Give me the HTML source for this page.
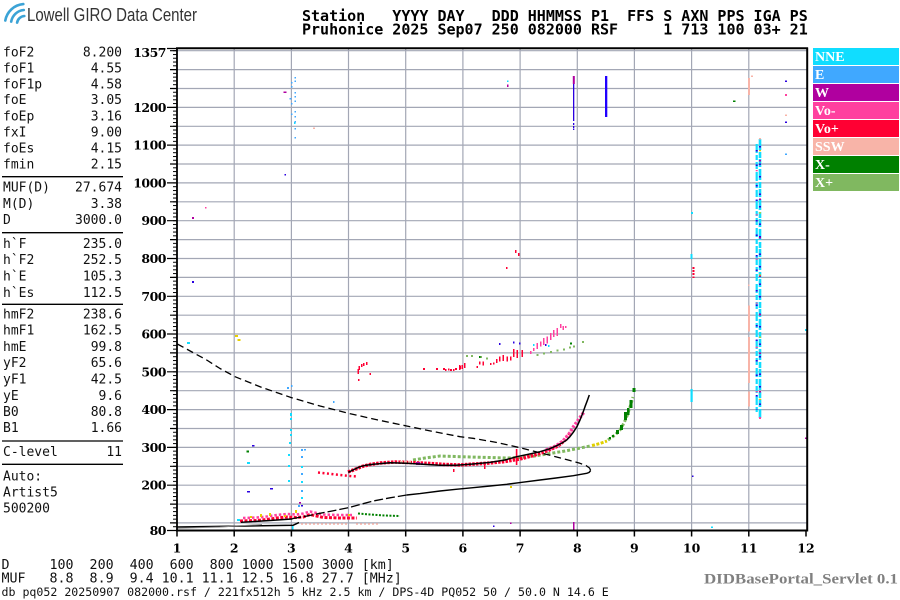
<!DOCTYPE html>
<html><head><meta charset="utf-8">
<style>
html,body{margin:0;padding:0;background:#fff;}
svg{display:block;}
.m{font-family:"DejaVu Sans Mono","Liberation Mono",monospace;}
.s{font-family:"DejaVu Serif","Liberation Serif",serif;font-weight:bold;}
.lg{font-family:"Liberation Serif","DejaVu Serif",serif;font-weight:bold;font-size:14px;fill:#fff;}
</style></head><body>
<svg width="900" height="600" viewBox="0 0 900 600" xmlns="http://www.w3.org/2000/svg">
<defs>
<pattern id="tk" patternUnits="userSpaceOnUse" x="0" y="530" width="10" height="3.778"><rect x="0" y="0" width="10" height="1" fill="#000"/></pattern>
</defs>
<rect width="900" height="600" fill="#fff"/>

<!-- logo -->
<g fill="none" stroke="#3BA3D6" stroke-width="2.6" stroke-linecap="round">
<path d="M17.1 22.6 A8 8 0 0 1 24.3 16"/>
<path d="M11.2 21.6 A14 14 0 0 1 23.8 10"/>
<path d="M5.3 20.5 A20 20 0 0 1 23.3 4.1"/>
</g>
<text x="27" y="21" font-family="'Liberation Sans Narrow','Liberation Sans',sans-serif" font-size="18" fill="#333" textLength="170" lengthAdjust="spacingAndGlyphs">Lowell GIRO Data Center</text>

<!-- header -->
<g class="m" font-size="15" font-weight="bold" fill="#000">
<text x="302" y="21">Station&#160;&#160;&#160;YYYY&#160;DAY&#160;&#160;&#160;DDD&#160;HHMMSS&#160;P1&#160;&#160;FFS&#160;S&#160;AXN&#160;PPS&#160;IGA&#160;PS</text>
<text x="302" y="34.5">Pruhonice&#160;2025&#160;Sep07&#160;250&#160;082000&#160;RSF&#160;&#160;&#160;&#160;&#160;1&#160;713&#160;100&#160;03+&#160;21</text>
</g>

<!-- left panel -->
<g class="m" font-size="13" fill="#111">
<text x="3" y="56.5">foF2</text><text x="122" y="56.5" text-anchor="end">8.200</text>
<text x="3" y="72.5">foF1</text><text x="122" y="72.5" text-anchor="end">4.55</text>
<text x="3" y="88.5">foF1p</text><text x="122" y="88.5" text-anchor="end">4.58</text>
<text x="3" y="104">foE</text><text x="122" y="104" text-anchor="end">3.05</text>
<text x="3" y="120.5">foEp</text><text x="122" y="120.5" text-anchor="end">3.16</text>
<text x="3" y="136.5">fxI</text><text x="122" y="136.5" text-anchor="end">9.00</text>
<text x="3" y="152.5">foEs</text><text x="122" y="152.5" text-anchor="end">4.15</text>
<text x="3" y="168.5">fmin</text><text x="122" y="168.5" text-anchor="end">2.15</text>
<text x="3" y="191.5">MUF(D)</text><text x="122" y="191.5" text-anchor="end">27.674</text>
<text x="3" y="207.8">M(D)</text><text x="122" y="207.8" text-anchor="end">3.38</text>
<text x="3" y="224">D</text><text x="122" y="224" text-anchor="end">3000.0</text>
<text x="3" y="247.8">h`F</text><text x="122" y="247.8" text-anchor="end">235.0</text>
<text x="3" y="263.8">h`F2</text><text x="122" y="263.8" text-anchor="end">252.5</text>
<text x="3" y="280.3">h`E</text><text x="122" y="280.3" text-anchor="end">105.3</text>
<text x="3" y="297">h`Es</text><text x="122" y="297" text-anchor="end">112.5</text>
<text x="3" y="318.5">hmF2</text><text x="122" y="318.5" text-anchor="end">238.6</text>
<text x="3" y="334.7">hmF1</text><text x="122" y="334.7" text-anchor="end">162.5</text>
<text x="3" y="351">hmE</text><text x="122" y="351" text-anchor="end">99.8</text>
<text x="3" y="367.2">yF2</text><text x="122" y="367.2" text-anchor="end">65.6</text>
<text x="3" y="383.4">yF1</text><text x="122" y="383.4" text-anchor="end">42.5</text>
<text x="3" y="399.8">yE</text><text x="122" y="399.8" text-anchor="end">9.6</text>
<text x="3" y="416">B0</text><text x="122" y="416" text-anchor="end">80.8</text>
<text x="3" y="432.2">B1</text><text x="122" y="432.2" text-anchor="end">1.66</text>
<text x="3" y="455.8">C-level</text><text x="122" y="455.8" text-anchor="end">11</text>
<text x="3" y="480.5">Auto:</text>
<text x="3" y="496.5">Artist5</text>
<text x="3" y="512.4">500200</text>
</g>
<g stroke="#000" stroke-width="1.3">
<path d="M2 176.7H123M2 232.7H123M2 304.3H123M2 441H123M2 464.3H123"/>
</g>

<!-- grid -->
<g stroke="#a3a7b5" stroke-width="1.2" fill="none">
<path d="M234.2 48V530.5M291.4 48V530.5M348.5 48V530.5M405.7 48V530.5M462.9 48V530.5M520.1 48V530.5M577.3 48V530.5M634.4 48V530.5M691.6 48V530.5M748.8 48V530.5"/>
<path d="M177 522.9H807M177 504.1H807M177 485.2H807M177 466.3H807M177 447.4H807M177 428.5H807M177 409.6H807M177 390.7H807M177 371.8H807M177 352.9H807M177 334H807M177 315.2H807M177 296.3H807M177 277.4H807M177 258.5H807M177 239.6H807M177 220.7H807M177 201.8H807M177 182.9H807M177 164H807M177 145.1H807M177 126.3H807M177 107.4H807M177 88.5H807M177 69.6H807M177 50.7H807"/>
</g>

<!-- y ticks -->
<rect x="173" y="50" width="4" height="481" fill="url(#tk)"/>
<g stroke="#000" stroke-width="1.2">
<path d="M170 522.9h7M170 504.1h7M170 466.3h7M170 428.5h7M170 390.7h7M170 352.9h7M170 315.2h7M170 277.4h7M170 239.6h7M170 201.8h7M170 164h7M170 126.3h7M170 88.5h7M170 69.6h7M170 50.7h7"/>
<path d="M167 530.5h10M167 485.2h10M167 447.4h10M167 409.6h10M167 371.8h10M167 334h10M167 296.3h10M167 258.5h10M167 220.7h10M167 182.9h10M167 145.1h10M167 107.4h10M167 48.5h10"/>
</g>
<!-- x ticks -->
<g stroke="#000" stroke-width="1.5">
<path d="M177 530V536.5M234.2 530V536.5M291.4 530V536.5M348.5 530V536.5M405.7 530V536.5M462.9 530V536.5M520.1 530V536.5M577.3 530V536.5M634.4 530V536.5M691.6 530V536.5M748.8 530V536.5M806 530V536.5"/>
</g>

<!-- y labels -->
<g class="s" font-size="12.5" fill="#000" text-anchor="end" letter-spacing="-0.5">
<text x="166" y="57">1357</text>
<text x="166" y="111.9">1200</text>
<text x="166" y="149.6">1100</text>
<text x="166" y="187.4">1000</text>
<text x="166" y="225.2">900</text>
<text x="166" y="263">800</text>
<text x="166" y="300.8">700</text>
<text x="166" y="338.5">600</text>
<text x="166" y="376.3">500</text>
<text x="166" y="414.1">400</text>
<text x="166" y="451.9">300</text>
<text x="166" y="489.7">200</text>
<text x="166" y="534.8">80</text>
</g>
<!-- x labels -->
<g class="s" font-size="12.5" fill="#000" text-anchor="middle">
<text x="177" y="552.5">1</text>
<text x="234.2" y="552.5">2</text>
<text x="291.4" y="552.5">3</text>
<text x="348.5" y="552.5">4</text>
<text x="405.7" y="552.5">5</text>
<text x="462.9" y="552.5">6</text>
<text x="520.1" y="552.5">7</text>
<text x="577.3" y="552.5">8</text>
<text x="634.4" y="552.5">9</text>
<text x="691.6" y="552.5">10</text>
<text x="748.8" y="552.5">11</text>
<text x="806" y="552.5">12</text>
</g>

<!-- ===== DATA ===== -->
<!-- E region band -->
<polyline fill="none" stroke="#FF0033" stroke-width="3" stroke-dasharray="3 1.5" points="240,521 256.7,520.5 266.7,519.5 276.7,518 286.7,517 296.7,517.5 303.3,517 310,514.5 316.7,516 323.3,517.5 340,518 356.7,518"/>
<polyline fill="none" stroke="#FF409F" stroke-width="2.5" stroke-dasharray="2.5 2" points="243,518 256.7,517.5 266.7,516.5 276.7,515 286.7,514 296.7,514.5 303.3,513.5 310,511.5 316.7,513 323.3,514.5 340,515 352,515"/>
<g fill="#E8D000">
<path d="M260 514h2v3h-2zM269 513h2v3h-2zM295 510h2v3h-2zM250 516h2v2h-2zM284 515h2v2h-2zM348 514h2v2h-2zM510 486h2v2h-2zM235 335h3v2h-3zM237.5 339h3v2h-3z"/>
</g>
<polyline fill="none" stroke="#F8B4A8" stroke-width="1.6" stroke-dasharray="2 2" points="301,524 348,524"/>
<polyline fill="none" stroke="#F8B4A8" stroke-width="1.6" stroke-dasharray="2 2" points="356,524 379,524"/>
<polyline fill="none" stroke="#008000" stroke-width="2" stroke-dasharray="2 1.5" points="358,513.5 370,514.5 385,515.5 400,516"/>

<!-- F1 low red -->
<polyline fill="none" stroke="#FF0033" stroke-width="2.5" stroke-dasharray="2 2.5" points="318,472.5 330,473.8 340,475 350,476 357,476.5"/>

<!-- X trace (X+) -->
<polyline fill="none" stroke="#80B860" stroke-width="3" stroke-dasharray="3 2" points="413,460 425,458 440,456 455,456.5 470,457 490,457.5 507,458 520,457.5 535,456 550,453.5 565,451 578,448.5 590,446"/>
<polyline fill="none" stroke="#E0D000" stroke-width="3" stroke-dasharray="3 1.5" points="592,445.5 600,443.5 607,441"/>
<polyline fill="none" stroke="#80B860" stroke-width="3" stroke-dasharray="3 2" points="608,440 615,435 620,430 624,423 627,416 630,407 633,397"/>
<g fill="#008000">
<path d="M616 430h3v4h-3zM620 425h3v5h-3zM624 412h3v8h-3zM627 408h2.5v7h-2.5zM629.5 400h3v8h-3zM632.5 388h3v4h-3zM609 437h2v2h-2zM612 435h2v2h-2z"/>
</g>

<!-- O trace -->
<polyline fill="none" stroke="#FF0033" stroke-width="3.5" stroke-dasharray="2.5 1.2" points="348,472 356,469 362,466.5 370,464.5 380,463 395,462 410,462.5 430,463.5 445,464.5 460,465 475,464 490,463 505,461.5 520,459 535,455 548,450.5 558,446 565,440 571,432"/>
<polyline fill="none" stroke="#FF409F" stroke-width="3.5" stroke-dasharray="2.5 1.5" points="546,450 556,446 563,441 569,434 574,426 579,419 584,412"/>
<g fill="#F8B4A8"><path d="M400 461h3v2h-3zM404 461h3v2h-3zM408 461h3v2h-3z"/></g>
<g fill="#B0009F"><path d="M416 462h4v3h-4zM421 463h2v2h-2z"/></g>
<g fill="#FF0033"><path d="M515.8 449h1.6v16h-1.6zM484 463h1.5v6h-1.5zM453 469h1.5v3h-1.5z"/></g>

<!-- spread F high -->
<g fill="#FF0033">
<path d="M357.5 369h1.5v5h-1.5zM358.5 366h1.5v4h-1.5zM361 364h1.5v3h-1.5zM363 363h1.5v3h-1.5zM366 362h1.5v3h-1.5zM369.5 373h1.5v2h-1.5zM358 379h1.5v2h-1.5z"/>
<path d="M423 368h2v2h-2zM436 368h2v2h-2zM443 368h2v2h-2zM450 369h2v2h-2zM455 368h2v2h-2zM459 366h2v3h-2z"/>
<path d="M445 369h1.5v2h-1.5zM448 368.5h1.5v2h-1.5zM453 369h1.5v2h-1.5zM459 365h1.5v5h-1.5zM461.5 365h1.5v4h-1.5zM464 363h1.5v5h-1.5zM476.5 366h1.5v2h-1.5zM479 361.5h1.5v3h-1.5zM482.5 361.5h1.5v4h-1.5zM490 363h1.5v2h-1.5zM493 362.5h1.5v2h-1.5zM496 359h1.5v4h-1.5zM499 356.5h1.5v5h-1.5zM502.5 355h1.5v6h-1.5zM506.5 356.5h1.5v5h-1.5zM510 356.5h1.5v4h-1.5zM513 349h1.5v8h-1.5zM516.5 350h1.5v8h-1.5zM521.5 350h1.5v7h-1.5z"/>
<path d="M515 250h1.5v3h-1.5zM518 253h1.5v3h-1.5zM506 267h1.5v2h-1.5z"/>
</g>
<g fill="#FF409F">
<path d="M533 348h1.5v3h-1.5zM536.5 343h1.5v6h-1.5zM540 341.5h1.5v5h-1.5zM543 338h1.5v7h-1.5zM546.5 336.5h1.5v7h-1.5zM550 333h1.5v7h-1.5zM553 330h1.5v7h-1.5zM556.5 328h1.5v8h-1.5zM560 324h1.5v4h-1.5zM562.5 326h1.5v4h-1.5zM565 326h1.5v2h-1.5zM530 351h1.5v3h-1.5z"/>
</g>
<g fill="#80B860">
<path d="M480 356h2v2h-2zM486 357.5h2v2h-2zM536.5 354h2v2h-2zM543 352.5h2v2h-2zM550 351h2v2h-2zM556.5 349.5h2v2h-2zM563 348.5h2v2h-2zM569 346.5h2v2h-2zM573 345.5h2v2h-2zM582 341h2v2h-2zM466 355h2v2h-2zM471 355h2v2h-2z"/>
</g>
<g fill="#008000"><path d="M570 342.5h2v2h-2zM479 356h1.5v2h-1.5z"/></g>
<g fill="#2a00e0"><path d="M499 343h1.5v2h-1.5zM513 341.5h1.5v2h-1.5zM519 342.5h1.5v2h-1.5zM545 344h1.5v2h-1.5z"/></g>
<g fill="#10DDFF"><path d="M548 345h1.5v2h-1.5zM533 344h1.5v2h-1.5z"/></g>

<!-- scattered low-frequency points -->
<g fill="#10DDFF">
<path d="M187 342h3v2h-3zM247 462h3v2h-3zM237 519h3v2h-3zM290 413h2v3h-2zM290 418h2v2h-2zM290 429h2v2h-2zM290 434h2v2h-2zM289 442h2v2h-2zM288 454h2v2h-2zM288 465h2v2h-2zM288 480h2v2h-2zM301 466h2v2h-2zM301 481h2v2h-2zM301 497h2v2h-2zM292 526h1.5v4h-1.5zM805 329h2v2h-2zM691 212h2v2h-2zM690.5 254h2v5h-2zM690.5 389h2.2v13h-2.2zM711 526.5h2v1.5h-2zM507 80.5h1.5v1.5h-1.5zM294 122h1.5v2h-1.5z"/>
</g>
<g fill="#40A8FF">
<path d="M287 387h2v2h-2zM301 449h2v2h-2zM301 456h2v2h-2zM301 473h2v2h-2zM301 490h2v2h-2zM298 505h2v2h-2zM333 401h1.5v2h-1.5zM304 449h2v1.5h-2zM291 82h1.5v1.5h-1.5zM291 86h1.5v1.5h-1.5zM294.5 77h1.5v1.5h-1.5zM294.5 80.5h1.5v1.5h-1.5zM289.5 98h2v1.5h-2zM291 103h1.5v1.5h-1.5zM294.5 92h1.5v1.5h-1.5zM294.5 96h1.5v1.5h-1.5zM294.5 100.5h1.5v1.5h-1.5zM294.5 111h1.5v1.5h-1.5zM291 113.5h1.5v1.5h-1.5zM294.5 116h1.5v1.5h-1.5zM294.5 121h1.5v1.5h-1.5zM294.5 128h1.5v1.5h-1.5zM294.5 137h1.5v1.5h-1.5zM785 153.5h2v1.5h-2zM291 385h1.5v2h-1.5z"/>
</g>
<g fill="#2a00e0">
<path d="M192 281h2v2h-2zM247 491h3v1.5h-3zM270 488h3v1.5h-3zM252 445h2.5v1.5h-2.5zM284.5 174h1.5v1.5h-1.5zM493 525.5h1.5v1.5h-1.5zM692 475.5h1.5v1.5h-1.5zM785 80.5h2v1.5h-2zM785 121.5h2v1.5h-2zM301 505h2v1.5h-2z"/>
</g>
<g fill="#008000"><path d="M246.5 450.5h2.5v2h-2.5zM733 100.5h2.5v1.5h-2.5z"/></g>
<g fill="#B0009F"><path d="M192 217h2v2h-2zM283.5 91.5h3v1.5h-3zM507 84.5h1.5v2.5h-1.5zM299 502h2v1.5h-2zM510 522.5h1.5v1.5h-1.5zM805 437.5h2v1.5h-2zM573 522h1.5v8h-1.5z"/></g>
<g fill="#FF409F"><path d="M785 94h2v2h-2zM205 207h1.5v1.5h-1.5z"/></g>
<g fill="#F8B4A8"><path d="M313 127.5h2v1.5h-2zM785 114.5h2v1.5h-2zM751 75.5h2v1.5h-2z"/></g>
<g fill="#FF0033"><path d="M692.5 267h2v2h-2zM692.5 270h2v2h-2zM692.5 273h2v2h-2zM692.5 276.5h2v1.5h-2z"/></g>

<!-- 8 and 8.5 MHz vertical lines -->
<rect x="572.8" y="76" width="2" height="8" fill="#B0009F"/>
<rect x="573" y="84" width="1.3" height="37" fill="#2a00e0"/>
<path d="M573 123h1.3v2h-1.3zM573 126h1.3v2h-1.3zM573 128.5h1.3v1.5h-1.3z" fill="#2a00e0"/>
<rect x="605" y="76" width="2.3" height="41" fill="#2000ff"/>

<!-- 11 MHz spread column -->
<g fill="#F8B4A8">
<rect x="748" y="78" width="2" height="17"/>
<rect x="748" y="284.5" width="1.5" height="1.5"/>
<rect x="748" y="305.5" width="2" height="26"/>
<rect x="748" y="337" width="2" height="46"/>
<rect x="748" y="391.5" width="2" height="15"/>
</g>
<line x1="756.7" y1="144" x2="756.7" y2="413" stroke="#10DDFF" stroke-width="2.2" stroke-dasharray="9 2 5 2 7 3"/>
<line x1="760" y1="139" x2="760" y2="418" stroke="#10DDFF" stroke-width="2.6" stroke-dasharray="11 2 6 1 8 2"/>
<line x1="756.7" y1="150" x2="756.7" y2="410" stroke="#2a00e0" stroke-width="2" stroke-dasharray="1.5 13 1.5 19"/>
<line x1="760" y1="146" x2="760" y2="416" stroke="#2a00e0" stroke-width="2" stroke-dasharray="1.5 16 1.5 11"/>
<line x1="760" y1="160" x2="760" y2="410" stroke="#B0009F" stroke-width="2" stroke-dasharray="1.5 37"/>
<line x1="756.7" y1="170" x2="756.7" y2="400" stroke="#FF409F" stroke-width="2" stroke-dasharray="1.2 43"/>
<line x1="760" y1="150" x2="760" y2="400" stroke="#E0D000" stroke-width="2" stroke-dasharray="1.2 61"/>
<rect x="759" y="138" width="2" height="1.5" fill="#F8B4A8"/>
<rect x="759" y="417" width="2" height="2" fill="#FF409F"/>

<!-- model curves -->
<g fill="none" stroke="#000" stroke-linejoin="round">
<polyline stroke-width="1.3" stroke-dasharray="7 4" points="177.3,344 192,352 206.7,360 220,368.5 235,376.7 262,387.5 291.7,397.7 320,406 348.3,413.3 378,420 406.7,426 433,431.5 460,436.7 473,438.3 497,442.5 520,447.7 550,455.3 570,460.5 580,463.3 586,465.5 589.5,468 590.7,470.5"/>
<polyline stroke-width="1.4" points="590.7,470.5 589,472.5 586.7,473.3 573.3,475.7 556,478 540,480 522,482.3 506.7,484.3 490,486 473,487.7 456,489.3 440,491 420,493.6 406.7,495"/>
<polyline stroke-width="1.3" stroke-dasharray="9 3" points="406.7,495 390,497.8 373.3,501 360,504.5 348.3,507.7 334,510.6 320,513.3 306,516.2 293,518.5"/>
<polyline stroke-width="1.4" points="293,518.5 291.7,519 270,520.5 241,522.3"/>
<polyline stroke-width="1.5" points="348.3,472.3 354,469.5 360,466.7 366,465.2 373.3,464.3 390,462.7 406.7,463.3 425,464.4 440,465.3 456,465.3 473,464 490,462.4 505,460 516.7,456.7 528,454.4 540,451.7 549,449 556.7,445.7 562,443 566.7,440 570,436.6 573.3,432.3 577,426.5 580,420 582.8,413 585,406.7 587.3,400.6 589.3,395"/>
<polyline stroke-width="1.5" points="177,527 293,525.3 299,522.6"/>
<polyline stroke="#888" stroke-width="1" points="177,528.3 220,527 262,524.5"/>
</g>

<!-- frame -->
<g stroke="#000" fill="none">
<path d="M176 48.3H808" stroke-width="2"/>
<path d="M807.2 47.5V531.5" stroke-width="2"/>
<path d="M177 47.5V531.5" stroke-width="1.8"/>
<path d="M176 530.5H808" stroke-width="2"/>
</g>

<!-- legend -->
<rect x="813" y="48" width="86" height="17" fill="#10DDFF"/>
<rect x="813" y="66" width="86" height="17" fill="#40A8FF"/>
<rect x="813" y="84" width="86" height="17" fill="#B0009F"/>
<rect x="813" y="102" width="86" height="17" fill="#FF409F"/>
<rect x="813" y="120" width="86" height="17" fill="#FF0033"/>
<rect x="813" y="138" width="86" height="17" fill="#F8B4A8"/>
<rect x="813" y="156" width="86" height="17" fill="#008000"/>
<rect x="813" y="174" width="86" height="17" fill="#80B860"/>
<text class="lg" x="815" y="61">NNE</text>
<text class="lg" x="815" y="79">E</text>
<text class="lg" x="815" y="97">W</text>
<text class="lg" x="815" y="115">Vo-</text>
<text class="lg" x="815" y="133">Vo+</text>
<text class="lg" x="815" y="151">SSW</text>
<text class="lg" x="815" y="169">X-</text>
<text class="lg" x="815" y="187">X+</text>

<!-- bottom text -->
<g class="m" font-size="13.3" fill="#111">
<text x="1.5" y="569">D&#160;&#160;&#160;&#160;&#160;100&#160;&#160;200&#160;&#160;400&#160;&#160;600&#160;&#160;800&#160;1000&#160;1500&#160;3000&#160;[km]</text>
<text x="1.5" y="582.7">MUF&#160;&#160;&#160;8.8&#160;&#160;8.9&#160;&#160;9.4&#160;10.1&#160;11.1&#160;12.5&#160;16.8&#160;27.7&#160;[MHz]</text>
</g>
<text class="m" x="1.5" y="596" font-size="11.6" fill="#111">db&#160;pq052&#160;20250907&#160;082000.rsf&#160;/&#160;221fx512h&#160;5&#160;kHz&#160;2.5&#160;km&#160;/&#160;DPS-4D&#160;PQ052&#160;50&#160;/&#160;50.0&#160;N&#160;14.6&#160;E</text>
<text x="898" y="583.3" text-anchor="end" font-family="'Liberation Serif','DejaVu Serif',serif" font-weight="bold" font-size="15" fill="#808080" textLength="194" lengthAdjust="spacingAndGlyphs">DIDBasePortal_Servlet 0.1</text>
</svg>
</body></html>
